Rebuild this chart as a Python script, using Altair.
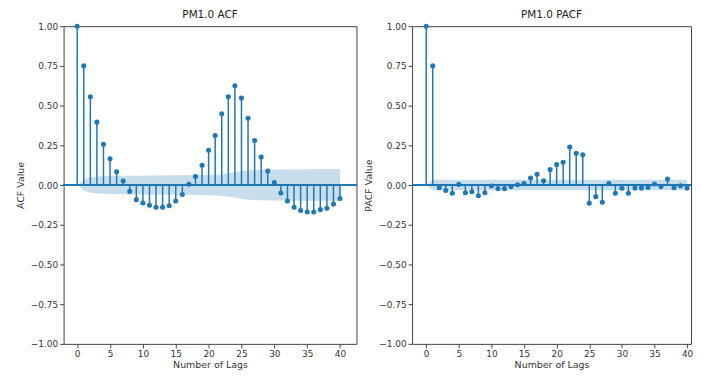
import altair as alt
import pandas as pd

# ---- data ----
lags = list(range(0, 41))

acf_values = [1.0, 0.75, 0.556, 0.396, 0.256, 0.165, 0.083, 0.025, -0.04, -0.092,
              -0.113, -0.127, -0.14, -0.14, -0.13, -0.10, -0.06, 0.005, 0.053, 0.125,
              0.219, 0.312, 0.448, 0.556, 0.625, 0.548, 0.42, 0.28, 0.177, 0.088,
              0.016, -0.05, -0.10, -0.14, -0.16, -0.17, -0.17, -0.155, -0.146, -0.12,
              -0.085]

pacf_values = [1.0, 0.75, -0.017, -0.035, -0.052, 0.004, -0.048, -0.042, -0.067, -0.048,
               -0.006, -0.023, -0.023, -0.01, 0.002, 0.01, 0.044, 0.068, 0.027, 0.097,
               0.129, 0.144, 0.24, 0.20, 0.19, -0.115, -0.073, -0.108, 0.01, -0.052,
               -0.02, -0.052, -0.019, -0.019, -0.015, 0.006, -0.01, 0.038, -0.017, -0.004,
               -0.019]

acf_band_lags = [0, 1, 2, 3, 5, 8, 16, 20, 22, 23, 24, 25, 26, 28, 30, 40]
acf_band_half = [0.0, 0.035, 0.048, 0.054, 0.057, 0.059, 0.061, 0.063, 0.067, 0.072,
                 0.079, 0.087, 0.092, 0.096, 0.098, 0.101]

pacf_band_lags = [0, 1, 40]
pacf_band_half = [0.0, 0.033, 0.033]

x_ticks = [0, 5, 10, 15, 20, 25, 30, 35, 40]
y_ticks = [-1.0, -0.75, -0.5, -0.25, 0.0, 0.25, 0.5, 0.75, 1.0]

BLUE = "#1f77b4"
FONT = "DejaVu Sans"
AXC = "#444444"


def panel(values, band_lags, band_half, title, ytitle, width, xdomain):
    stems = pd.DataFrame({"lag": lags, "value": values})
    band = pd.DataFrame({"lag": band_lags,
                         "lo": [-h for h in band_half],
                         "hi": band_half})
    xscale = alt.Scale(domain=xdomain, nice=False, zero=False)
    yscale = alt.Scale(domain=[-1, 1], nice=False)
    xaxis = alt.Axis(values=x_ticks, format="d", title="Number of Lags")
    yaxis = alt.Axis(values=y_ticks, format=".2f", title=ytitle, labelOverlap=False)

    area = alt.Chart(band).mark_area(color=BLUE, opacity=0.25).encode(
        x=alt.X("lag:Q", scale=xscale, axis=xaxis),
        y=alt.Y("lo:Q", scale=yscale, axis=yaxis),
        y2="hi:Q",
    )
    zero = alt.Chart(stems).mark_rule(color=BLUE, strokeWidth=1.3).encode(
        y=alt.datum(0, scale=yscale, axis=yaxis)
    )
    rules = alt.Chart(stems).mark_rule(color=BLUE, strokeWidth=1.5).encode(
        x=alt.X("lag:Q", scale=xscale, axis=xaxis),
        y=alt.Y("value:Q", scale=yscale, axis=yaxis),
        y2=alt.datum(0),
    )
    dots = alt.Chart(stems).mark_circle(color=BLUE, size=26, opacity=1).encode(
        x=alt.X("lag:Q", scale=xscale, axis=xaxis),
        y=alt.Y("value:Q", scale=yscale, axis=yaxis),
    )
    return alt.layer(area, zero, rules, dots).properties(
        width=width, height=320,
        title=alt.TitleParams(title, fontSize=10.5, font=FONT, fontWeight="normal",
                              anchor="middle", offset=2, color="#222222"),
    )


left = panel(acf_values, acf_band_lags, acf_band_half, "PM1.0 ACF", "ACF Value",
             295, [-2.07, 42.5])
right = panel(pacf_values, pacf_band_lags, pacf_band_half, "PM1.0 PACF", "PACF Value",
              281, [-2.17, 40.6])

chart = alt.hconcat(left, right, spacing=4).properties(
    padding={"left": 6, "top": 0, "right": 0, "bottom": 0}
).configure_view(
    stroke=AXC, strokeWidth=1
).configure_axis(
    domain=False, grid=False, tickColor=AXC, tickSize=4, tickWidth=1,
    labelFont=FONT, labelFontSize=9, labelColor="#333333", labelPadding=2,
    labelOverlap=False,
    titleFont=FONT, titleFontSize=9.5, titleFontWeight="normal", titleColor="#333333",
    titlePadding=5,
).configure_axisX(labelPadding=2, titlePadding=1)

chart.save("out.html", embed_options={"renderer": "svg", "actions": False})
